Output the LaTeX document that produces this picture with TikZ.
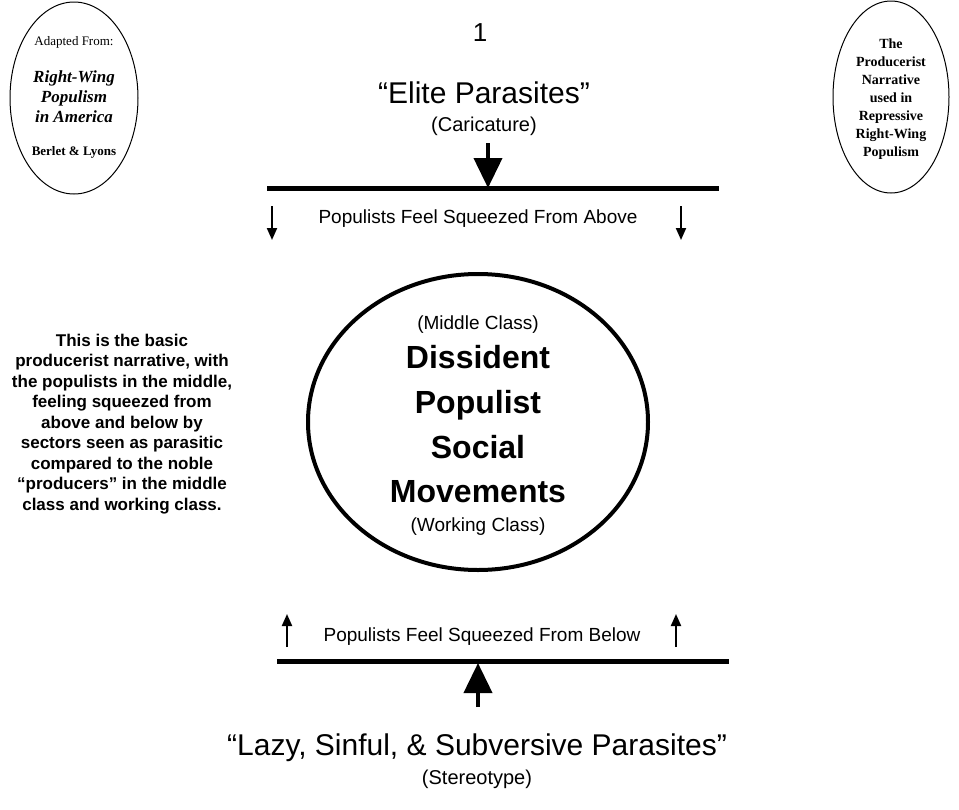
\documentclass[tikz,border=0pt]{standalone}
\usepackage{fontspec}
\setmainfont{Liberation Sans}
\newfontfamily\serifface{Liberation Serif}
\usetikzlibrary{arrows.meta}
\begin{document}
\begin{tikzpicture}[x=1pt,y=-1pt,line width=1.5pt,
    bar/.style={line width=5pt},
    bigarrow/.style={line width=4pt,-{Triangle[length=30pt,width=28pt]}},
    smallarrow/.style={line width=2pt,-{Triangle[length=12pt,width=10pt]}},
    oval/.style={draw,line width=1pt},
    bigword/.style={font=\bfseries\fontsize{32}{36}\selectfont,text height=24pt,text depth=7pt}]
    \useasboundingbox (0,0) rectangle (959,809);
    % side ovals
    \draw[oval] (74,98) ellipse (64 and 96);
    \node[font=\serifface\fontsize{13}{16}\selectfont] (src) at (74,42) {Adapted From:};
    \node[align=center,font=\serifface\bfseries\itshape\fontsize{17}{20}\selectfont] (book) at (74,97)
        {Right-Wing\\Populism\\in America};
    \node[font=\serifface\bfseries\fontsize{13}{16}\selectfont] (auth) at (74,152) {Berlet \& Lyons};
    \draw[oval] (891,97) ellipse (58 and 96);
    \node[align=center,font=\serifface\bfseries\fontsize{14}{18}\selectfont] (ttl) at (891,99)
        {The\\Producerist\\Narrative\\used in\\Repressive\\Right-Wing\\Populism};
    \node[font=\fontsize{26}{30}\selectfont] (num) at (480,33) {1};
    % top
    \node[font=\fontsize{30}{34}\selectfont] (elite) at (484,93) {“Elite Parasites”};
    \node[font=\fontsize{20}{24}\selectfont] (cari) at (484,126) {(Caricature)};
    \coordinate (topbarL) at (267,188);
    \coordinate (topbarR) at (719,188);
    \draw[bar] (topbarL) -- (topbarR);
    \coordinate (topA) at (488,143);
    \coordinate (topB) at (488,188);
    \draw[bigarrow] (topA) -- (topB);
    \coordinate (a1) at (272,206); \coordinate (a2) at (272,240);
    \coordinate (a3) at (681,206); \coordinate (a4) at (681,240);
    \draw[smallarrow] (a1) -- (a2);
    \draw[smallarrow] (a3) -- (a4);
    \node[font=\fontsize{19}{22}\selectfont] (above) at (478,219) {Populists Feel Squeezed From Above};
    % middle
    \draw[line width=4pt] (478,422) ellipse (170 and 148);
    \node[font=\fontsize{19}{22}\selectfont] (midc) at (478,325) {(Middle Class)};
    \node[bigword] (w1) at (478,360) {Dissident};
    \node[bigword] (w2) at (478,405) {Populist};
    \node[bigword] (w3) at (478,450) {Social};
    \node[bigword] (w4) at (478,494) {Movements};
    \node[font=\fontsize{19}{22}\selectfont] (work) at (478,527) {(Working Class)};
    \node[align=center,font=\bfseries\fontsize{17}{20.5}\selectfont] (desc) at (122,424)
        {This is the basic\\producerist narrative, with\\the populists in the middle,\\feeling squeezed from\\above and below by\\sectors seen as parasitic\\compared to the noble\\“producers” in the middle\\class and working class.};
    % bottom
    \coordinate (b1) at (287,647); \coordinate (b2) at (287,614);
    \coordinate (b3) at (676,647); \coordinate (b4) at (676,614);
    \draw[smallarrow] (b1) -- (b2);
    \draw[smallarrow] (b3) -- (b4);
    \node[font=\fontsize{19}{22}\selectfont] (below) at (482,637) {Populists Feel Squeezed From Below};
    \coordinate (botbarL) at (277,661);
    \coordinate (botbarR) at (729,661);
    \draw[bar] (botbarL) -- (botbarR);
    \coordinate (botA) at (478,707);
    \coordinate (botB) at (478,663);
    \draw[bigarrow] (botA) -- (botB);
    \node[font=\fontsize{30}{34}\selectfont] (lazy) at (477,748) {“Lazy, Sinful, \& Subversive Parasites”};
    \node[font=\fontsize{20}{24}\selectfont] (stereo) at (477,779) {(Stereotype)};
\end{tikzpicture}
\end{document}
